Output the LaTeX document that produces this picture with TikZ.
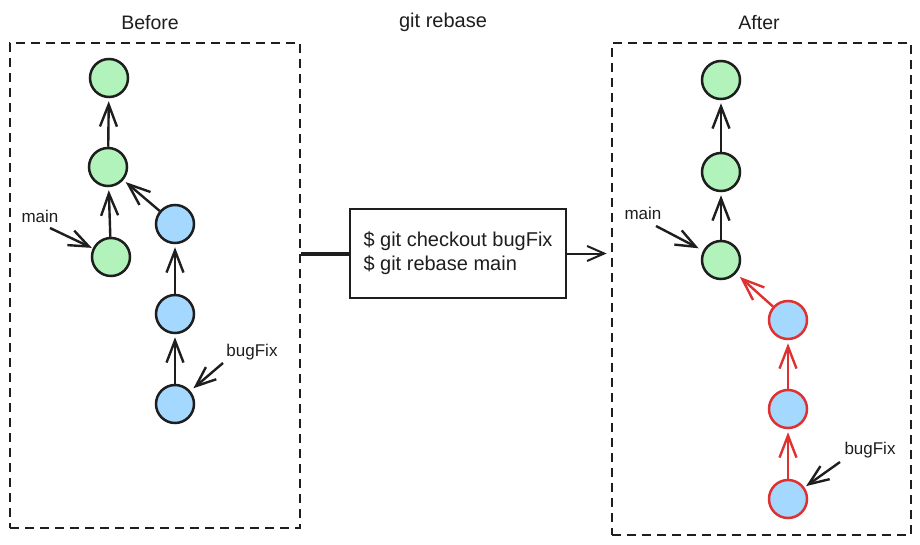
\documentclass[tikz,border=0pt]{standalone}
\usepackage{fontspec}
\setmainfont{Liberation Sans}
\usetikzlibrary{arrows.meta}
\definecolor{ink}{HTML}{1E1E1E}
\definecolor{gfill}{HTML}{B2F2BB}
\definecolor{bfill}{HTML}{A5D8FF}
\definecolor{redl}{HTML}{E03131}
\tikzset{
  commit/.style={circle, draw=ink, line width=2.5pt, minimum size=38pt, inner sep=0pt},
  gc/.style={commit, fill=gfill},
  bc/.style={commit, fill=bfill},
  rc/.style={commit, fill=bfill, draw=redl},
  link/.style={draw=ink, line width=2.4pt, -{Straight Barb[length=22pt,width=17pt]}, shorten >=3pt},
  redlink/.style={link, draw=redl},
  lablink/.style={draw=ink, line width=2.4pt, -{Straight Barb[length=20pt,width=16pt]}},
  frame/.style={draw=ink, line width=2.8pt, dash pattern=on 9pt off 6pt, inner sep=0pt},
  cmdbox/.style={draw=ink, line width=2pt, minimum width=216pt, minimum height=89pt, align=left, inner sep=0pt, font=\fontsize{20}{24}\selectfont, text=ink},
  title/.style={font=\fontsize{19.5}{22}\selectfont, text=ink},
  hand/.style={font=\fontsize{17}{20}\selectfont, text=ink},
}
\begin{document}
\begin{tikzpicture}[x=1pt, y=-1pt]
  \useasboundingbox[fill=white] (0,0) rectangle (920,545);

  % titles
  \node[title] (tBefore) at (150,23) {Before};
  \node[title] (tAfter) at (759,23) {After};
  \node[hand, font=\fontsize{20}{22}\selectfont] (tRebase) at (443,22) {git rebase};

  % frames
  \node[frame, minimum width=290pt, minimum height=485pt] (before) at (155,285.5) {};
  \node[frame, minimum width=299pt, minimum height=492pt] (after) at (761.5,289) {};

  % command box
  \node[cmdbox] (cmd) at (458,253.5) {\$ git checkout bugFix\\\$ git rebase main};
  \draw[ink, line width=4pt] (before.east |- cmd.west) -- (cmd.west);
  \draw[link, line width=2pt, shorten >=4pt, -{Straight Barb[length=17pt,width=15pt]}] (cmd.east) -- (cmd.east -| after.west);

  % before graph
  \node[gc] (g1) at (109,78) {};
  \node[gc] (g2) at (108,167) {};
  \node[gc] (g3) at (111,257) {};
  \node[bc] (b1) at (175,224) {};
  \node[bc] (b2) at (175,314) {};
  \node[bc] (b3) at (175,404) {};
  \draw[link] (g2) -- (g1);
  \draw[link] (g3) -- (g2);
  \draw[link] (b1) -- (g2);
  \draw[link] (b2) -- (b1);
  \draw[link] (b3) -- (b2);

  \node[hand] (mainL) at (40,216) {main};
  \coordinate (mL) at (50,228);
  \draw[lablink, shorten >=1pt] (mL) -- (g3);
  \node[hand] (bugL) at (252,352) {bugFix};
  \coordinate (bL) at (223,363);
  \draw[lablink, shorten >=4pt] (bL) -- (b3);

  % after graph
  \node[gc] (h1) at (721,80) {};
  \node[gc] (h2) at (721,172) {};
  \node[gc] (h3) at (721,260) {};
  \node[rc] (r1) at (788,320) {};
  \node[rc] (r2) at (788,409) {};
  \node[rc] (r3) at (788,499) {};
  \draw[link] (h2) -- (h1);
  \draw[link] (h3) -- (h2);
  \draw[redlink, shorten >=5pt] (r1) -- (h3);
  \draw[redlink] (r2) -- (r1);
  \draw[redlink] (r3) -- (r2);

  \node[hand] (mainR) at (643,213) {main};
  \coordinate (mR) at (656,226);
  \draw[lablink, shorten >=5pt] (mR) -- (h3);
  \node[hand] (bugR) at (870,450) {bugFix};
  \coordinate (bR) at (840,462);
  \draw[lablink, shorten >=2pt] (bR) -- (r3);
\end{tikzpicture}
\end{document}
